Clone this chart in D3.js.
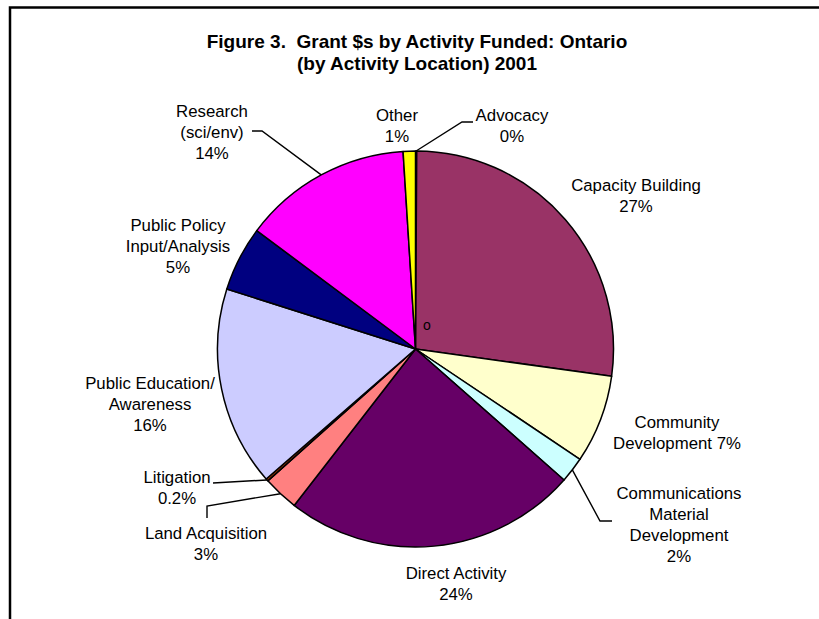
<!DOCTYPE html>
<html>
<head>
<meta charset="utf-8">
<script src="https://cdn.jsdelivr.net/npm/d3@7"></script>
<style>
  html, body { margin: 0; padding: 0; background: #fff; }
  svg { display: block; }
  text { font-family: "Liberation Sans", Arial, sans-serif; fill: #000; }
</style>
</head>
<body>
<svg id="chart" width="819" height="619"></svg>
<script>
// ---------- data ----------
const categories = ["Advocacy", "Capacity Building", "Community Development",
  "Communications Material Development", "Direct Activity", "Land Acquisition",
  "Litigation", "Public Education/Awareness", "Public Policy Input/Analysis",
  "Research (sci/env)", "Other"];
const values = [0.1, 27.1, 7.2, 2.1, 24.0, 2.9, 0.2, 16.3, 5.3, 13.8, 1.0];
const percentLabels = ["0%", "27%", "7%", "2%", "24%", "3%", "0.2%", "16%", "5%", "14%", "1%"];
const labelLines = [
  ["Advocacy", "0%"],
  ["Capacity Building", "27%"],
  ["Community", "Development 7%"],
  ["Communications", "Material", "Development", "2%"],
  ["Direct Activity", "24%"],
  ["Land Acquisition", "3%"],
  ["Litigation", "0.2%"],
  ["Public Education/", "Awareness", "16%"],
  ["Public Policy", "Input/Analysis", "5%"],
  ["Research", "(sci/env)", "14%"],
  ["Other", "1%"]
];
const titleLines = ["Figure 3.\u00A0 Grant $s by Activity Funded: Ontario", "(by Activity Location) 2001"];

// ---------- styles / layout ----------
const colors = ["#9999FF", "#993366", "#FFFFCC", "#CCFFFF", "#660066", "#FF8080",
  "#993300", "#CCCCFF", "#000080", "#FF00FF", "#FFFF00"];
const cx = 415.5, cy = 349, R = 198;
const lineH = 21;
const labelPos = [
  {x: 512, y: 115}, {x: 636, y: 185}, {x: 677, y: 422}, {x: 679, y: 493},
  {x: 456, y: 573}, {x: 206, y: 533}, {x: 177, y: 477}, {x: 150, y: 383},
  {x: 178, y: 225}, {x: 212, y: 111}, {x: 397, y: 115}
];
// leader line: [elbow, end] (null = no leader)
const leaders = [
  [[462, 122], [473, 122]], null, null, [[600, 521], [612, 521]],
  null, [[207, 506], [207, 518]], [[213, 483], [213, 483]], null, null,
  [[262, 131], [252, 131]], null
];

const svg = d3.select("#chart");

// frame
svg.append("path")
  .attr("d", `M10,619 L10,7.5 L819,7.5`)
  .attr("fill", "none").attr("stroke", "#000").attr("stroke-width", 2.5);

// title
svg.append("g").selectAll("text").data(titleLines).join("text")
  .attr("x", 417).attr("y", (d, i) => 48 + i * 22)
  .attr("text-anchor", "middle")
  .attr("font-size", 19).attr("font-weight", "bold")
  .text(d => d);

const pie = d3.pie().sort(null).value(d => d)(values);
const arc = d3.arc().innerRadius(0).outerRadius(R);
const edgeArc = d3.arc().innerRadius(R).outerRadius(R);

const g = svg.append("g").attr("transform", `translate(${cx},${cy})`);
g.selectAll("path").data(pie).join("path")
  .attr("d", arc)
  .attr("fill", (d, i) => colors[i])
  .attr("stroke", "#000").attr("stroke-width", 1.5)
  .attr("stroke-linejoin", "round");

// stray "o" marker seen in the original
svg.append("text").attr("x", 427).attr("y", 325).attr("dy", "0.35em")
  .attr("text-anchor", "middle").attr("font-size", 14).text("o");

// leader lines
pie.forEach((d, i) => {
  const L = leaders[i];
  if (!L) return;
  const p = edgeArc.centroid(d);
  const pts = [[p[0] + cx, p[1] + cy], L[0], L[1]];
  svg.append("path")
    .attr("d", d3.line()(pts))
    .attr("fill", "none").attr("stroke", "#000").attr("stroke-width", 1.4);
});

// labels
const lg = svg.append("g");
labelLines.forEach((lines, i) => {
  const t = lg.append("text").attr("text-anchor", "middle").attr("font-size", 16.8);
  lines.forEach((s, j) => {
    t.append("tspan").attr("x", labelPos[i].x).attr("y", labelPos[i].y + j * lineH)
      .attr("dy", "0.35em").text(s);
  });
});
</script>
</body>
</html>
